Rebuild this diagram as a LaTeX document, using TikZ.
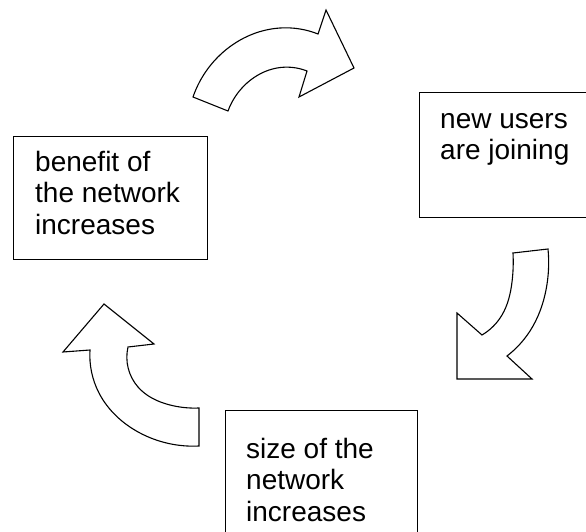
\documentclass[tikz,border=0pt]{standalone}
\usepackage{fontspec}
\setmainfont{Liberation Sans}
\usetikzlibrary{hobby}
\usetikzlibrary{positioning}

\begin{document}
\begin{tikzpicture}[x=1pt, y=-1pt,
    box/.style={draw, line width=1.2pt, inner sep=0pt, anchor=north west},
    txt/.style={inner sep=0pt, align=left, font=\fontsize{28}{31.5}\selectfont,
      execute at begin node=\strut},
    bent/.style={draw, line width=1.1pt, line join=miter}]
    \clip (0, 0) rectangle (586, 532);
    \node[box, minimum width=194pt, minimum height=123pt] (benefit) at (13, 136) {};
    \node[txt, below right=15pt and 22pt of benefit.north west] (benefittext) {benefit of\\the network\\increases};
    \node[box, minimum width=200pt, minimum height=125pt] (joining) at (419, 92) {};
    \node[txt, below right=21pt and 21pt of joining.north west] (joiningtext) {new users\\are joining};
    \node[box, minimum width=192pt, minimum height=150pt] (size) at (225, 410) {};
    \node[txt, below right=28pt and 21pt of size.north west] (sizetext) {size of the\\network\\increases};
    % top arrow
    \draw[bent] (193, 97) to[curve through={(220, 55) (280, 28)}] (318, 34)
      -- (326, 10) -- (354, 68) -- (299, 97) -- (307, 71)
      to[curve through={(277, 68) (247, 83)}] (228, 111) -- cycle;
    % right arrow
    \draw[bent] (513, 253) -- (548, 249) to[curve through={(546, 290) (530, 331)}] (507, 356)
      -- (532, 379) -- (457, 379) -- (457, 313) -- (482, 335)
      to[curve through={(502, 315) (512, 282)}] (513, 253) -- cycle;
    % left arrow
    \draw[bent] (104, 304) -- (154, 344) -- (128, 347) to[curve through={(138, 387) (170, 405)}] (199, 408)
      -- (199, 446) to[curve through={(140, 433) (99, 393)}] (90, 350)
      -- (63, 352) -- cycle;
\end{tikzpicture}
\end{document}
